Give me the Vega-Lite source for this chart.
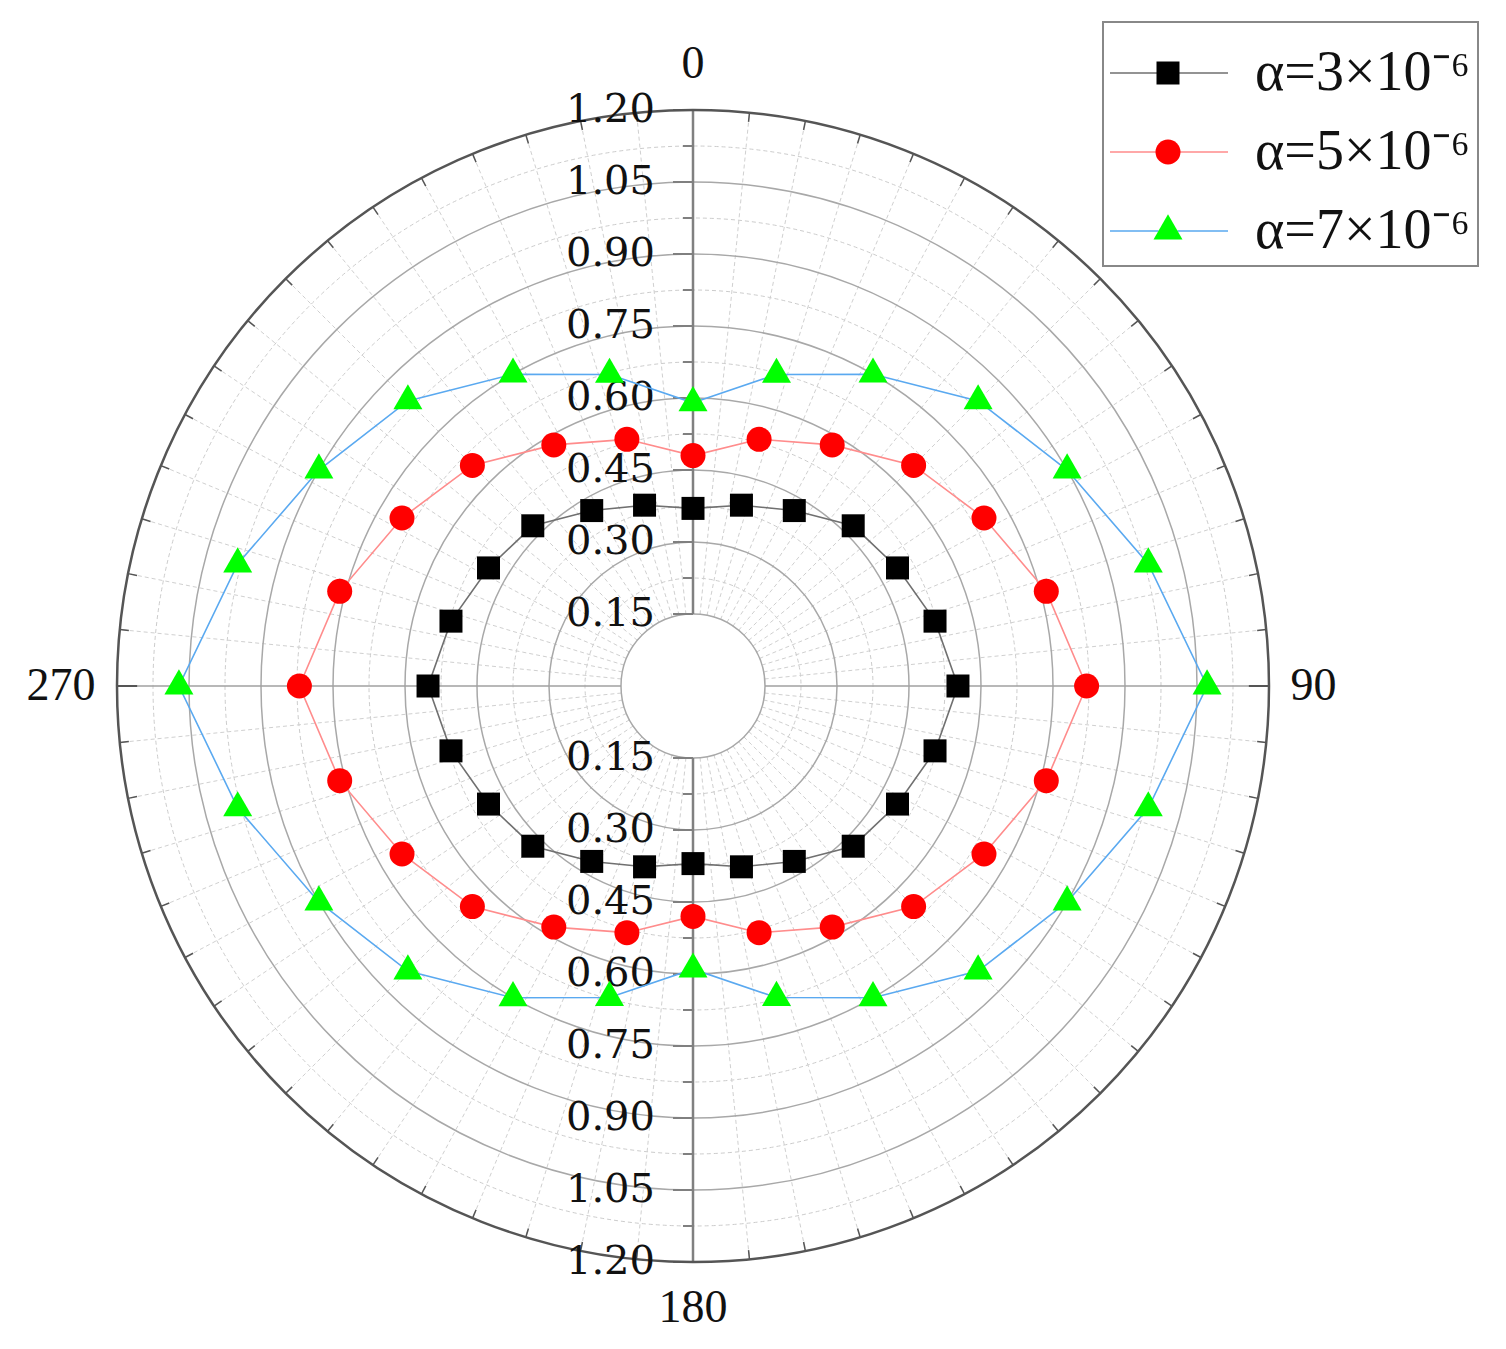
{
  "$schema": "https://vega.github.io/schema/vega-lite/v6.json",
  "width": 1152,
  "height": 1152,
  "autosize": {"type": "none"},
  "padding": {"left": 117, "top": 110, "right": 237, "bottom": 87},
  "background": "white",
  "config": {"view": {"stroke": null}, "font": "Liberation Serif", "legend": {"strokeWidth": 2}},
  "datasets": {
    "series": [
      {"a": 0, "v": 0.37, "s": "α=3×10⁻⁶"}, {"a": 15, "v": 0.39, "s": "α=3×10⁻⁶"}, {"a": 30, "v": 0.422, "s": "α=3×10⁻⁶"}, {"a": 45, "v": 0.472, "s": "α=3×10⁻⁶"},
      {"a": 60, "v": 0.492, "s": "α=3×10⁻⁶"}, {"a": 75, "v": 0.522, "s": "α=3×10⁻⁶"}, {"a": 90, "v": 0.552, "s": "α=3×10⁻⁶"}, {"a": 105, "v": 0.522, "s": "α=3×10⁻⁶"},
      {"a": 120, "v": 0.492, "s": "α=3×10⁻⁶"}, {"a": 135, "v": 0.472, "s": "α=3×10⁻⁶"}, {"a": 150, "v": 0.422, "s": "α=3×10⁻⁶"}, {"a": 165, "v": 0.39, "s": "α=3×10⁻⁶"},
      {"a": 180, "v": 0.37, "s": "α=3×10⁻⁶"}, {"a": 195, "v": 0.39, "s": "α=3×10⁻⁶"}, {"a": 210, "v": 0.422, "s": "α=3×10⁻⁶"}, {"a": 225, "v": 0.472, "s": "α=3×10⁻⁶"},
      {"a": 240, "v": 0.492, "s": "α=3×10⁻⁶"}, {"a": 255, "v": 0.522, "s": "α=3×10⁻⁶"}, {"a": 270, "v": 0.552, "s": "α=3×10⁻⁶"}, {"a": 285, "v": 0.522, "s": "α=3×10⁻⁶"},
      {"a": 300, "v": 0.492, "s": "α=3×10⁻⁶"}, {"a": 315, "v": 0.472, "s": "α=3×10⁻⁶"}, {"a": 330, "v": 0.422, "s": "α=3×10⁻⁶"}, {"a": 345, "v": 0.39, "s": "α=3×10⁻⁶"},
      {"a": 0, "v": 0.48, "s": "α=5×10⁻⁶"}, {"a": 15, "v": 0.532, "s": "α=5×10⁻⁶"}, {"a": 30, "v": 0.58, "s": "α=5×10⁻⁶"}, {"a": 45, "v": 0.65, "s": "α=5×10⁻⁶"},
      {"a": 60, "v": 0.70, "s": "α=5×10⁻⁶"}, {"a": 75, "v": 0.762, "s": "α=5×10⁻⁶"}, {"a": 90, "v": 0.82, "s": "α=5×10⁻⁶"}, {"a": 105, "v": 0.762, "s": "α=5×10⁻⁶"},
      {"a": 120, "v": 0.70, "s": "α=5×10⁻⁶"}, {"a": 135, "v": 0.65, "s": "α=5×10⁻⁶"}, {"a": 150, "v": 0.58, "s": "α=5×10⁻⁶"}, {"a": 165, "v": 0.532, "s": "α=5×10⁻⁶"},
      {"a": 180, "v": 0.48, "s": "α=5×10⁻⁶"}, {"a": 195, "v": 0.532, "s": "α=5×10⁻⁶"}, {"a": 210, "v": 0.58, "s": "α=5×10⁻⁶"}, {"a": 225, "v": 0.65, "s": "α=5×10⁻⁶"},
      {"a": 240, "v": 0.70, "s": "α=5×10⁻⁶"}, {"a": 255, "v": 0.762, "s": "α=5×10⁻⁶"}, {"a": 270, "v": 0.82, "s": "α=5×10⁻⁶"}, {"a": 285, "v": 0.762, "s": "α=5×10⁻⁶"},
      {"a": 300, "v": 0.70, "s": "α=5×10⁻⁶"}, {"a": 315, "v": 0.65, "s": "α=5×10⁻⁶"}, {"a": 330, "v": 0.58, "s": "α=5×10⁻⁶"}, {"a": 345, "v": 0.532, "s": "α=5×10⁻⁶"},
      {"a": 0, "v": 0.59, "s": "α=7×10⁻⁶"}, {"a": 15, "v": 0.672, "s": "α=7×10⁻⁶"}, {"a": 30, "v": 0.75, "s": "α=7×10⁻⁶"}, {"a": 45, "v": 0.84, "s": "α=7×10⁻⁶"},
      {"a": 60, "v": 0.90, "s": "α=7×10⁻⁶"}, {"a": 75, "v": 0.982, "s": "α=7×10⁻⁶"}, {"a": 90, "v": 1.071, "s": "α=7×10⁻⁶"}, {"a": 105, "v": 0.982, "s": "α=7×10⁻⁶"},
      {"a": 120, "v": 0.90, "s": "α=7×10⁻⁶"}, {"a": 135, "v": 0.84, "s": "α=7×10⁻⁶"}, {"a": 150, "v": 0.75, "s": "α=7×10⁻⁶"}, {"a": 165, "v": 0.672, "s": "α=7×10⁻⁶"},
      {"a": 180, "v": 0.59, "s": "α=7×10⁻⁶"}, {"a": 195, "v": 0.672, "s": "α=7×10⁻⁶"}, {"a": 210, "v": 0.75, "s": "α=7×10⁻⁶"}, {"a": 225, "v": 0.84, "s": "α=7×10⁻⁶"},
      {"a": 240, "v": 0.90, "s": "α=7×10⁻⁶"}, {"a": 255, "v": 0.982, "s": "α=7×10⁻⁶"}, {"a": 270, "v": 1.071, "s": "α=7×10⁻⁶"}, {"a": 285, "v": 0.982, "s": "α=7×10⁻⁶"},
      {"a": 300, "v": 0.90, "s": "α=7×10⁻⁶"}, {"a": 315, "v": 0.84, "s": "α=7×10⁻⁶"}, {"a": 330, "v": 0.75, "s": "α=7×10⁻⁶"}, {"a": 345, "v": 0.672, "s": "α=7×10⁻⁶"}
    ],
    "minorRings": [{"r": 0.225}, {"r": 0.375}, {"r": 0.525}, {"r": 0.675}, {"r": 0.825}, {"r": 0.975}, {"r": 1.125}],
    "majorRings": [{"r": 0.15}, {"r": 0.3}, {"r": 0.45}, {"r": 0.6}, {"r": 0.75}, {"r": 0.9}, {"r": 1.05}],
    "outerRing": [{"r": 1.2}],
    "minorTicksV": [{"v": 0.225}, {"v": 0.375}, {"v": 0.525}, {"v": 0.675}, {"v": 0.825}, {"v": 0.975}, {"v": 1.125},
      {"v": -0.225}, {"v": -0.375}, {"v": -0.525}, {"v": -0.675}, {"v": -0.825}, {"v": -0.975}, {"v": -1.125}],
    "majorTicksV": [{"v": 0.15}, {"v": 0.3}, {"v": 0.45}, {"v": 0.6}, {"v": 0.75}, {"v": 0.9}, {"v": 1.05}, {"v": 1.2},
      {"v": -0.15}, {"v": -0.3}, {"v": -0.45}, {"v": -0.6}, {"v": -0.75}, {"v": -0.9}, {"v": -1.05}, {"v": -1.2}],
    "spokes": [
      {"a": 5.625}, {"a": 11.25}, {"a": 16.875}, {"a": 22.5}, {"a": 28.125}, {"a": 33.75}, {"a": 39.375}, {"a": 45}, {"a": 50.625}, {"a": 56.25}, {"a": 61.875}, {"a": 67.5}, {"a": 73.125}, {"a": 78.75}, {"a": 84.375},
      {"a": 95.625}, {"a": 101.25}, {"a": 106.875}, {"a": 112.5}, {"a": 118.125}, {"a": 123.75}, {"a": 129.375}, {"a": 135}, {"a": 140.625}, {"a": 146.25}, {"a": 151.875}, {"a": 157.5}, {"a": 163.125}, {"a": 168.75}, {"a": 174.375},
      {"a": 185.625}, {"a": 191.25}, {"a": 196.875}, {"a": 202.5}, {"a": 208.125}, {"a": 213.75}, {"a": 219.375}, {"a": 225}, {"a": 230.625}, {"a": 236.25}, {"a": 241.875}, {"a": 247.5}, {"a": 253.125}, {"a": 258.75}, {"a": 264.375},
      {"a": 275.625}, {"a": 281.25}, {"a": 286.875}, {"a": 292.5}, {"a": 298.125}, {"a": 303.75}, {"a": 309.375}, {"a": 315}, {"a": 320.625}, {"a": 326.25}, {"a": 331.875}, {"a": 337.5}, {"a": 343.125}, {"a": 348.75}, {"a": 354.375}
    ],
    "axesV": [{"a": 0}, {"a": 180}],
    "axesH": [{"a": 90}, {"a": 270}],
    "angleLabels": [{"a": 0, "t": "0"}, {"a": 90, "t": "90"}, {"a": 180, "t": "180"}, {"a": 270, "t": "270"}]
  },
  "layer": [
    {
      "data": {"name": "minorRings"},
      "mark": {"type": "arc", "theta": 6.2832, "radius2": 0, "filled": false, "stroke": "#cccccc", "strokeWidth": 1, "strokeDash": [4, 3]},
      "encoding": {"radius": {"field": "r", "type": "quantitative", "stack": null, "scale": {"type": "linear", "domain": [0, 1.2], "range": [0, 576], "zero": true, "nice": false}}}
    },
    {
      "data": {"name": "spokes"},
      "transform": [
        {"calculate": "0.15*sin(datum.a*PI/180)", "as": "x"},
        {"calculate": "0.15*cos(datum.a*PI/180)", "as": "y"},
        {"calculate": "1.2*sin(datum.a*PI/180)", "as": "x2"},
        {"calculate": "1.2*cos(datum.a*PI/180)", "as": "y2"}
      ],
      "mark": {"type": "rule", "stroke": "#d0d0d0", "strokeWidth": 1, "strokeDash": [4, 3]},
      "encoding": {
        "x": {"field": "x", "type": "quantitative", "scale": {"domain": [-1.2, 1.2], "nice": false, "zero": false}, "axis": null},
        "y": {"field": "y", "type": "quantitative", "scale": {"domain": [-1.2, 1.2], "nice": false, "zero": false}, "axis": null},
        "x2": {"field": "x2"},
        "y2": {"field": "y2"}
      }
    },
    {
      "data": {"name": "majorRings"},
      "mark": {"type": "arc", "theta": 6.2832, "radius2": 0, "filled": false, "stroke": "#a8a8a8", "strokeWidth": 1.5},
      "encoding": {"radius": {"field": "r", "type": "quantitative", "stack": null, "scale": {"type": "linear", "domain": [0, 1.2], "range": [0, 576], "zero": true, "nice": false}}}
    },
    {
      "data": {"name": "spokes"},
      "transform": [
        {"calculate": "1.181*sin(datum.a*PI/180)", "as": "x"},
        {"calculate": "1.181*cos(datum.a*PI/180)", "as": "y"},
        {"calculate": "1.2*sin(datum.a*PI/180)", "as": "x2"},
        {"calculate": "1.2*cos(datum.a*PI/180)", "as": "y2"}
      ],
      "mark": {"type": "rule", "stroke": "#555555", "strokeWidth": 1.5},
      "encoding": {
        "x": {"field": "x", "type": "quantitative", "scale": {"domain": [-1.2, 1.2], "nice": false, "zero": false}, "axis": null},
        "y": {"field": "y", "type": "quantitative", "scale": {"domain": [-1.2, 1.2], "nice": false, "zero": false}, "axis": null},
        "x2": {"field": "x2"},
        "y2": {"field": "y2"}
      }
    },
    {
      "data": {"name": "axesH"},
      "transform": [
        {"calculate": "0.15*sin(datum.a*PI/180)", "as": "x"},
        {"calculate": "0", "as": "y"},
        {"calculate": "1.2*sin(datum.a*PI/180)", "as": "x2"}
      ],
      "mark": {"type": "rule", "stroke": "#a0a0a0", "strokeWidth": 1.5},
      "encoding": {
        "x": {"field": "x", "type": "quantitative", "scale": {"domain": [-1.2, 1.2], "nice": false, "zero": false}, "axis": null},
        "y": {"field": "y", "type": "quantitative", "scale": {"domain": [-1.2, 1.2], "nice": false, "zero": false}, "axis": null},
        "x2": {"field": "x2"}
      }
    },
    {
      "data": {"name": "axesH"},
      "transform": [
        {"calculate": "1.158*sin(datum.a*PI/180)", "as": "x"},
        {"calculate": "0", "as": "y"},
        {"calculate": "1.2*sin(datum.a*PI/180)", "as": "x2"}
      ],
      "mark": {"type": "rule", "stroke": "#555555", "strokeWidth": 2},
      "encoding": {
        "x": {"field": "x", "type": "quantitative", "scale": {"domain": [-1.2, 1.2], "nice": false, "zero": false}, "axis": null},
        "y": {"field": "y", "type": "quantitative", "scale": {"domain": [-1.2, 1.2], "nice": false, "zero": false}, "axis": null},
        "x2": {"field": "x2"}
      }
    },
    {
      "data": {"name": "axesV"},
      "transform": [
        {"calculate": "0", "as": "x"},
        {"calculate": "0.15*cos(datum.a*PI/180)", "as": "y"},
        {"calculate": "1.2*cos(datum.a*PI/180)", "as": "y2"}
      ],
      "mark": {"type": "rule", "stroke": "#808080", "strokeWidth": 2.5},
      "encoding": {
        "x": {"field": "x", "type": "quantitative", "scale": {"domain": [-1.2, 1.2], "nice": false, "zero": false}, "axis": null},
        "y": {"field": "y", "type": "quantitative", "scale": {"domain": [-1.2, 1.2], "nice": false, "zero": false}, "axis": null},
        "y2": {"field": "y2"}
      }
    },
    {
      "data": {"name": "minorTicksV"},
      "mark": {"type": "rule", "stroke": "#808080", "strokeWidth": 2, "x2Offset": -10},
      "encoding": {
        "x": {"datum": 0, "type": "quantitative", "scale": {"domain": [-1.2, 1.2], "nice": false, "zero": false}, "axis": null},
        "x2": {"datum": 0},
        "y": {"field": "v", "type": "quantitative", "scale": {"domain": [-1.2, 1.2], "nice": false, "zero": false}, "axis": null}
      }
    },
    {
      "data": {"name": "majorTicksV"},
      "mark": {"type": "rule", "stroke": "#808080", "strokeWidth": 2, "x2Offset": -20},
      "encoding": {
        "x": {"datum": 0, "type": "quantitative", "scale": {"domain": [-1.2, 1.2], "nice": false, "zero": false}, "axis": null},
        "x2": {"datum": 0},
        "y": {"field": "v", "type": "quantitative", "scale": {"domain": [-1.2, 1.2], "nice": false, "zero": false}, "axis": null}
      }
    },
    {
      "data": {"name": "outerRing"},
      "mark": {"type": "arc", "theta": 6.2832, "radius2": 0, "filled": false, "stroke": "#555555", "strokeWidth": 2.5},
      "encoding": {"radius": {"field": "r", "type": "quantitative", "stack": null, "scale": {"type": "linear", "domain": [0, 1.2], "range": [0, 576], "zero": true, "nice": false}}}
    },
    {
      "data": {"name": "majorTicksV"},
      "transform": [{"calculate": "format(abs(datum.v), '.2f')", "as": "t"}],
      "mark": {"type": "text", "font": "DejaVu Serif", "fontSize": 40, "color": "#111111", "align": "right", "baseline": "middle", "dx": -38},
      "encoding": {
        "x": {"datum": 0, "type": "quantitative", "scale": {"domain": [-1.2, 1.2], "nice": false, "zero": false}, "axis": null},
        "y": {"field": "v", "type": "quantitative", "scale": {"domain": [-1.2, 1.2], "nice": false, "zero": false}, "axis": null},
        "text": {"field": "t", "type": "nominal"}
      }
    },
    {
      "data": {"name": "series"},
      "transform": [
        {"calculate": "datum.v*sin(datum.a*PI/180)", "as": "x"},
        {"calculate": "datum.v*cos(datum.a*PI/180)", "as": "y"}
      ],
      "mark": {"type": "line", "interpolate": "linear-closed", "strokeWidth": 1.6},
      "encoding": {
        "x": {"field": "x", "type": "quantitative", "scale": {"domain": [-1.2, 1.2], "nice": false, "zero": false}, "axis": null},
        "y": {"field": "y", "type": "quantitative", "scale": {"domain": [-1.2, 1.2], "nice": false, "zero": false}, "axis": null},
        "order": {"field": "a", "type": "quantitative"},
        "stroke": {
          "field": "s", "type": "nominal",
          "scale": {"range": ["#707070", "#ff8c8c", "#5aa9f0"]},
          "legend": {
            "orient": "none", "legendX": 986, "legendY": -88, "title": " ", "titleFontSize": 13, "titlePadding": 3,
            "symbolType": "M-2.24,0L1.65,0M3.15,0L7.2,0", "symbolSize": 625, "symbolStrokeWidth": 1.6, "symbolFillColor": "transparent",
            "labelFont": "Liberation Serif", "labelFontSize": 56, "labelColor": "#111111", "labelOffset": 89, "labelLimit": 500,
            "padding": 7, "rowPadding": 23, "strokeColor": "#888888", "fillColor": "white"
          }
        }
      }
    },
    {
      "data": {"name": "series"},
      "transform": [
        {"calculate": "datum.v*sin(datum.a*PI/180)", "as": "x"},
        {"calculate": "datum.v*cos(datum.a*PI/180)", "as": "y"},
        {"calculate": "datum.s", "as": "m"}
      ],
      "mark": {"type": "point", "filled": true, "size": 625, "opacity": 1, "strokeWidth": 0},
      "encoding": {
        "x": {"field": "x", "type": "quantitative", "scale": {"domain": [-1.2, 1.2], "nice": false, "zero": false}, "axis": null},
        "y": {"field": "y", "type": "quantitative", "scale": {"domain": [-1.2, 1.2], "nice": false, "zero": false}, "axis": null},
        "fill": {
          "field": "m", "type": "nominal",
          "scale": {"range": ["#000000", "#ff0000", "#00ff00"]},
          "legend": {
            "orient": "none", "legendX": 1016, "legendY": -88, "title": " ", "titleFontSize": 13, "titlePadding": 3,
            "symbolSize": 625, "symbolStrokeWidth": 0, "symbolOpacity": 1,
            "labelFont": "Liberation Serif", "labelFontSize": 56, "labelOpacity": 0, "labelExpr": "' '", "labelOffset": 89, "labelLimit": 500,
            "padding": 7, "rowPadding": 23
          }
        },
        "shape": {
          "field": "m", "type": "nominal",
          "scale": {"range": ["M-0.92,-0.92L0.92,-0.92L0.92,0.92L-0.92,0.92Z", "circle", "M0,-1.34L1.16,0.67L-1.16,0.67Z"]},
          "legend": {
            "orient": "none", "legendX": 1016, "legendY": -88, "title": " ", "titleFontSize": 13, "titlePadding": 3,
            "symbolSize": 625, "symbolStrokeWidth": 0, "symbolOpacity": 1,
            "labelFont": "Liberation Serif", "labelFontSize": 56, "labelOpacity": 0, "labelExpr": "' '", "labelOffset": 89, "labelLimit": 500,
            "padding": 7, "rowPadding": 23
          }
        }
      }
    },
    {
      "data": {"name": "angleLabels"},
      "transform": [
        {"filter": "datum.a == 0 || datum.a == 180"},
        {"calculate": "1.295*sin(datum.a*PI/180)", "as": "x"},
        {"calculate": "1.295*cos(datum.a*PI/180)", "as": "y"}
      ],
      "mark": {"type": "text", "font": "Liberation Serif", "fontSize": 46, "color": "#111111", "align": "center", "baseline": "middle"},
      "encoding": {
        "x": {"field": "x", "type": "quantitative", "scale": {"domain": [-1.2, 1.2], "nice": false, "zero": false}, "axis": null},
        "y": {"field": "y", "type": "quantitative", "scale": {"domain": [-1.2, 1.2], "nice": false, "zero": false}, "axis": null},
        "text": {"field": "t", "type": "nominal"}
      }
    },
    {
      "data": {"name": "angleLabels"},
      "transform": [
        {"filter": "datum.a == 90"},
        {"calculate": "1.245*sin(datum.a*PI/180)", "as": "x"},
        {"calculate": "0", "as": "y"}
      ],
      "mark": {"type": "text", "font": "Liberation Serif", "fontSize": 46, "color": "#111111", "align": "left", "baseline": "middle"},
      "encoding": {
        "x": {"field": "x", "type": "quantitative", "scale": {"domain": [-1.2, 1.2], "nice": false, "zero": false}, "axis": null},
        "y": {"field": "y", "type": "quantitative", "scale": {"domain": [-1.2, 1.2], "nice": false, "zero": false}, "axis": null},
        "text": {"field": "t", "type": "nominal"}
      }
    },
    {
      "data": {"name": "angleLabels"},
      "transform": [
        {"filter": "datum.a == 270"},
        {"calculate": "1.245*sin(datum.a*PI/180)", "as": "x"},
        {"calculate": "0", "as": "y"}
      ],
      "mark": {"type": "text", "font": "Liberation Serif", "fontSize": 46, "color": "#111111", "align": "right", "baseline": "middle"},
      "encoding": {
        "x": {"field": "x", "type": "quantitative", "scale": {"domain": [-1.2, 1.2], "nice": false, "zero": false}, "axis": null},
        "y": {"field": "y", "type": "quantitative", "scale": {"domain": [-1.2, 1.2], "nice": false, "zero": false}, "axis": null},
        "text": {"field": "t", "type": "nominal"}
      }
    }
  ]
}
